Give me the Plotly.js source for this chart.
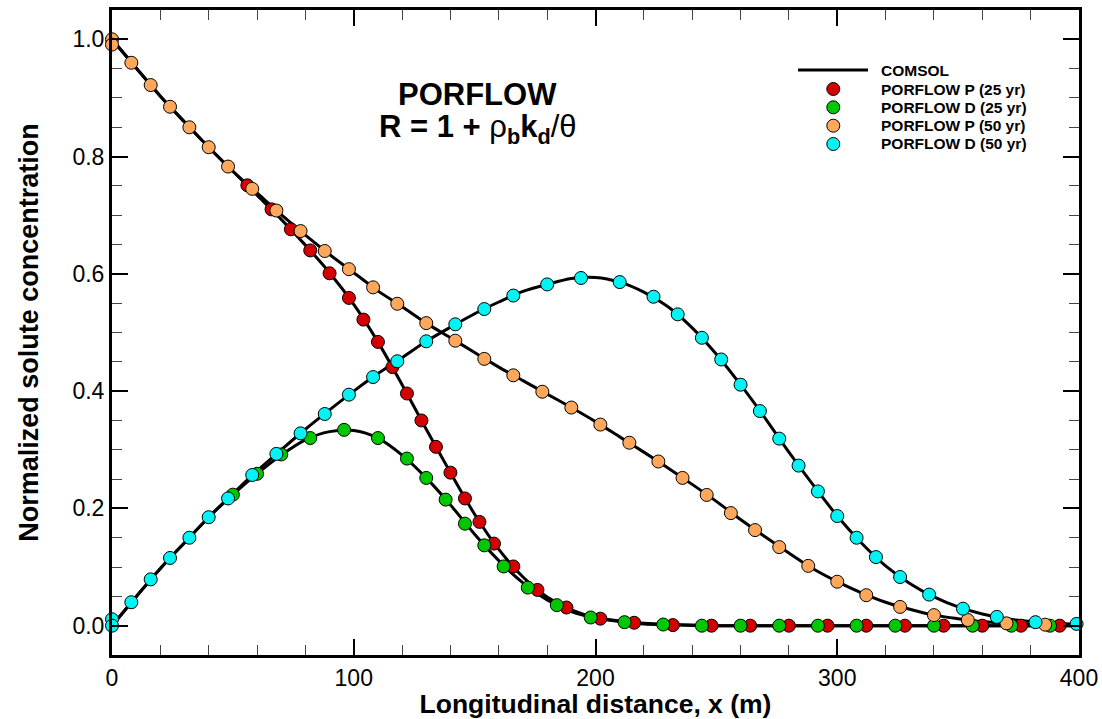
<!DOCTYPE html>
<html>
<head>
<meta charset="utf-8">
<script src="https://cdn.plot.ly/plotly-3.0.1.min.js"></script>
<style>html,body{margin:0;padding:0;background:#fff;}#chart{width:1102px;height:719px;}</style>
</head>
<body>
<div id="chart"></div>
<script>
// COMSOL curves (x every 10 m)
const comsolX = [0,10,20,30,40,50,60,70,80,90,100,110,120,130,140,150,160,170,180,190,200,210,220,230,240,250,260,270,280,290,300,310,320,330,340,350,360,370,380,390,400];
const comsolP25 = [1.0,0.951,0.903,0.859,0.816,0.775,0.734,0.693,0.649,0.602,0.548,0.484,0.411,0.335,0.261,0.190,0.130,0.083,0.049,0.027,0.014,0.008,0.004,0.002,0.001,0,0,0,0,0,0,0,0,0,0,0,0,0,0,0,0];
const comsolD25 = [0,0.0495,0.0975,0.1415,0.185,0.2235,0.259,0.291,0.317,0.331,0.333,0.320,0.291,0.252,0.206,0.156,0.111,0.073,0.044,0.024,0.013,0.007,0.003,0.0015,0.0005,0,0,0,0,0,0,0,0,0,0,0,0,0,0,0,0];
const comsolP50 = [1.0,0.951,0.903,0.859,0.816,0.775,0.738,0.701,0.666,0.633,0.602,0.571,0.544,0.516,0.491,0.466,0.441,0.418,0.395,0.372,0.348,0.322,0.296,0.269,0.241,0.212,0.181,0.152,0.124,0.097,0.075,0.056,0.040,0.028,0.018,0.012,0.007,0.004,0.0025,0.0015,0.001];
const comsolD50 = [0,0.0495,0.0975,0.1415,0.185,0.225,0.264,0.300,0.335,0.368,0.400,0.430,0.457,0.485,0.509,0.532,0.552,0.570,0.582,0.592,0.594,0.586,0.569,0.544,0.508,0.463,0.411,0.355,0.296,0.240,0.187,0.141,0.102,0.072,0.049,0.032,0.020,0.012,0.007,0.004,0.002];

// PORFLOW points
const p25X = [56,66,74,82,90,98,104,110,116,122,128,134,140,146,152,158,166,176,188,202,216,232,248,264,280,296,312,328,344,360,376,392];
const p25Y = [0.751,0.710,0.676,0.640,0.601,0.559,0.522,0.484,0.441,0.396,0.350,0.305,0.261,0.217,0.177,0.140,0.101,0.061,0.031,0.012,0.005,0.001,0,0,0,0,0,0,0,0,0,0];
const d25X = [50,60,70,82,96,110,122,130,138,146,154,162,172,184,198,212,228,244,260,276,292,308,324,340,356,372,388];
const d25Y = [0.2235,0.259,0.292,0.320,0.334,0.320,0.285,0.252,0.215,0.174,0.137,0.101,0.065,0.035,0.014,0.006,0.002,0,0,0,0,0,0,0,0,0,0];
const p50X = [0,0,8,16,24,32,40,48,58,68,78,88,98,108,118,130,142,154,166,178,190,202,214,226,236,246,256,266,276,288,300,312,326,340,354,370,386];
const p50Y = [1.0,0.991,0.960,0.922,0.885,0.850,0.816,0.783,0.745,0.708,0.673,0.639,0.608,0.577,0.549,0.516,0.486,0.455,0.427,0.399,0.372,0.343,0.312,0.280,0.252,0.223,0.192,0.163,0.134,0.102,0.075,0.052,0.032,0.018,0.0097,0.004,0.0017];
const d50X = [0,0,8,16,24,32,40,48,58,68,78,88,98,108,118,130,142,154,166,180,194,210,224,234,244,252,260,268,276,284,292,300,308,316,326,338,352,366,382,399];
const d50Y = [0.011,0,0.040,0.079,0.1155,0.150,0.185,0.217,0.257,0.293,0.328,0.361,0.394,0.424,0.451,0.485,0.514,0.540,0.563,0.582,0.593,0.586,0.561,0.531,0.491,0.454,0.411,0.366,0.319,0.273,0.229,0.187,0.150,0.117,0.083,0.053,0.029,0.015,0.006,0.003];

const seriesNames = ['COMSOL','PORFLOW P (25 yr)','PORFLOW D (25 yr)','PORFLOW P (50 yr)','PORFLOW D (50 yr)'];
const seriesColors = ['#000000','#d20000','#00c800','#ffa85c','#00f4f4'];
const xTicks = [0,100,200,300,400];
const yTicks = [0.0,0.2,0.4,0.6,0.8,1.0];

const lineStyle = {color:'#000', width:3, shape:'spline', smoothing:0.8};
function comsol(y){
  return {x:comsolX, y:y, type:'scatter', mode:'lines', line:lineStyle, name:seriesNames[0],
          showlegend:false, cliponaxis:false, hoverinfo:'skip'};
}
function pts(x, y, i){
  return {x:x, y:y, type:'scatter', mode:'markers', name:seriesNames[i], cliponaxis:false, showlegend:false,
          marker:{symbol:'circle', size:13, color:seriesColors[i], line:{color:'#000', width:1}}};
}
const data = [
  comsol(comsolP25), comsol(comsolD25), comsol(comsolP50), comsol(comsolD50),
  pts(p25X, p25Y, 1), pts(d25X, d25Y, 2), pts(p50X, p50Y, 3), pts(d50X, d50Y, 4)
];

// pixel -> paper helpers for the legend block (plot area 112..1079 x 10..655)
const L = 112, W = 967, B = 655, H = 645;
const px = v => (v - L) / W;
const py = v => (B - v) / H;

const fontFam = '"Liberation Sans", Arial, sans-serif';
const shapes = [];
const annotations = [
  {xref:'paper', yref:'paper', x:0.378, y:0.869, text:'<b>PORFLOW</b>', showarrow:false,
   font:{family:fontFam, size:31, color:'#000'}, xanchor:'center', yanchor:'middle'},
  {xref:'paper', yref:'paper', x:0.378, y:0.815,
   text:'<b>R = 1 + </b>ρ<sub><b>b</b></sub><b>k</b><sub><b>d</b></sub>/θ', showarrow:false,
   font:{family:fontFam, size:31, color:'#000'}, xanchor:'center', yanchor:'middle'}
];
const rowY = [70, 89, 107.3, 125.7, 144];
seriesNames.forEach((name, i) => {
  if (i === 0) {
    shapes.push({type:'line', xref:'paper', yref:'paper', x0:px(798), x1:px(868), y0:py(rowY[0]), y1:py(rowY[0]),
                 line:{color:'#000', width:3}});
  } else {
    shapes.push({type:'circle', xref:'paper', yref:'paper', xsizemode:'pixel', ysizemode:'pixel',
                 xanchor:px(833.3), yanchor:py(rowY[i]), x0:-6.5, x1:6.5, y0:-6.5, y1:6.5,
                 fillcolor:seriesColors[i], line:{color:'#000', width:1}});
  }
  annotations.push({xref:'paper', yref:'paper', x:px(879), y:py(rowY[i]), text:'<b>'+name+'</b>',
                    showarrow:false, xanchor:'left', yanchor:'middle',
                    font:{family:fontFam, size:15.5, color:'#000'}});
});

const axisCommon = {
  showline:true, linecolor:'#000', linewidth:3, mirror:'ticks',
  ticks:'inside', ticklen:16, tickwidth:2, tickcolor:'#000',
  showgrid:false, zeroline:false,
  tickfont:{family:fontFam, size:23, color:'#000'}
};
const layout = {
  width:1102, height:719,
  margin:{l:112, r:23, t:10, b:64},
  paper_bgcolor:'#fff', plot_bgcolor:'#fff',
  font:{family:fontFam, color:'#000'},
  showlegend:false,
  xaxis: Object.assign({}, axisCommon, {
    range:[0,400], tickvals:xTicks, ticktext:xTicks.map(String),
    minor:{dtick:20, ticklen:10, tickwidth:1, tickcolor:'#444', ticks:'inside', showgrid:false},
    title:{text:'<b>Longitudinal distance, x (m)</b>', font:{family:fontFam, size:26.5, color:'#000'}, standoff:2}
  }),
  yaxis: Object.assign({}, axisCommon, {
    range:[-0.05,1.05], tickvals:yTicks, ticktext:yTicks.map(v=>v.toFixed(1)),
    minor:{dtick:0.05, tick0:0, ticklen:10, tickwidth:1, tickcolor:'#444', ticks:'inside', showgrid:false},
    title:{text:'<b>Normalized solute concentration</b>', font:{family:fontFam, size:27, color:'#000'}, standoff:26}
  }),
  shapes: shapes,
  annotations: annotations
};
Plotly.newPlot('chart', data, layout, {displayModeBar:false, staticPlot:true});
</script>
</body>
</html>
